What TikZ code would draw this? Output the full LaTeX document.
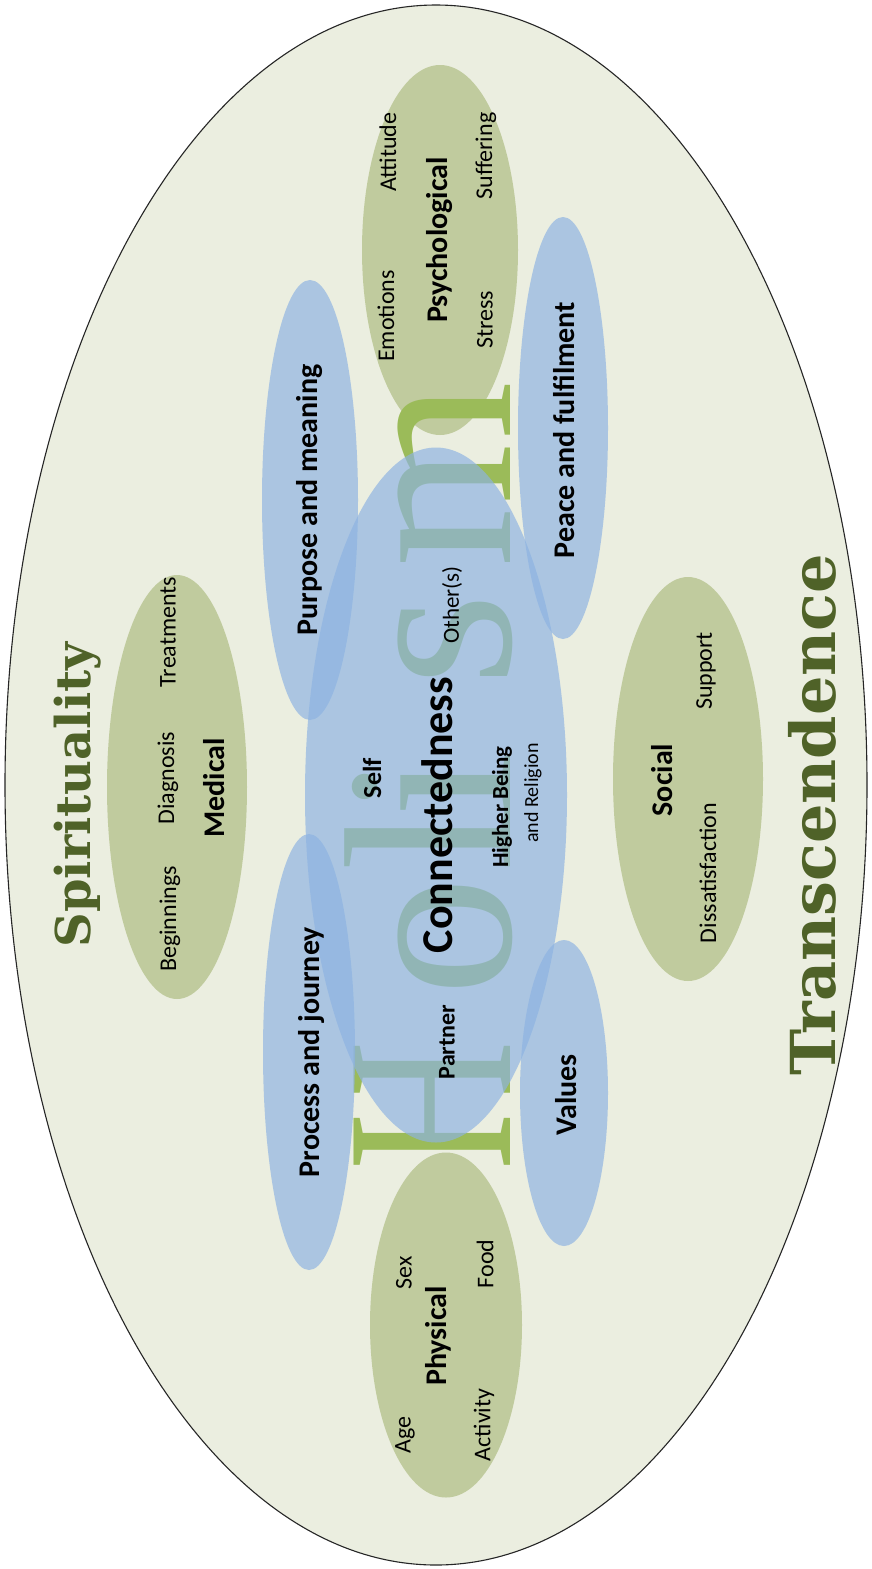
\documentclass[tikz,border=0pt]{standalone}
\usepackage{fontspec}
\setmainfont{Carlito}
\newfontfamily\slabfont{DejaVu Serif}
\newfontfamily\holfont{Liberation Serif}
\usetikzlibrary{shapes.geometric}
\definecolor{outerbg}{HTML}{EBEEE0}
\definecolor{olivefill}{HTML}{C0CB9E}
\definecolor{bluefill}{HTML}{8DB3E2}
\definecolor{holgreen}{HTML}{9BBB59}
\definecolor{titlegreen}{HTML}{4F6228}
\tikzset{
  greenell/.style={ellipse, fill=olivefill, inner sep=0pt, draw=none},
  blueell/.style={ellipse, fill=bluefill, fill opacity=0.68, inner sep=0pt, draw=none},
  lbl/.style={rotate=90, inner sep=0pt, font=\fontsize{24}{24}\selectfont},
  lblb/.style={rotate=90, inner sep=0pt, font=\bfseries\fontsize{30}{30}\selectfont},
  titletext/.style={rotate=90, inner sep=0pt, text=titlegreen},
  holletter/.style={rotate=90, inner sep=0pt, anchor=base, text=holgreen, font=\holfont\fontsize{239}{239}\selectfont},
}
\begin{document}
\begin{tikzpicture}[x=1pt,y=-1pt]
\useasboundingbox[fill=white] (0,0) rectangle (872,1569);
% outer ellipse
\node[ellipse, fill=outerbg, draw=black!85, line width=1.1pt, inner sep=0pt,
      minimum width=862pt, minimum height=1560pt] (outer) at (436,785) {};
% green ellipses
\node[greenell, minimum width=140pt, minimum height=424pt] (medical) at (177,787) {};
\node[greenell, minimum width=156pt, minimum height=370pt] (psych) at (440,250) {};
\node[greenell, minimum width=152pt, minimum height=345pt] (physical) at (446,1325) {};
\node[greenell, minimum width=150pt, minimum height=404pt] (social) at (688,779) {};
% Holism
\node[holletter] (hH) at (510,1106) {\scalebox{0.75}[1]{H}};
\node[holletter] (hO) at (510,937) {o};
\node[holletter] (hL) at (510,838) {l};
\node[holletter] (hI) at (510,785) {i};
\node[holletter] (hS) at (510,640) {s};
\node[holletter] (hM) at (510,475) {m};
% blue ellipses
\node[blueell, minimum width=96pt, minimum height=440pt] (purpose) at (310,500) {};
\node[blueell, minimum width=92pt, minimum height=436pt] (process) at (309,1052) {};
\node[blueell, minimum width=262pt, minimum height=695pt] (central) at (436,795) {};
\node[blueell, minimum width=90pt, minimum height=422pt] (peace) at (563,428) {};
\node[blueell, minimum width=88pt, minimum height=306pt] (values) at (564,1093) {};
% titles
\node[titletext, font=\slabfont\bfseries\fontsize{48}{48}\selectfont] (spirit) at (78,795) {Spirituality};
\node[titletext, font=\slabfont\bfseries\fontsize{62}{62}\selectfont] (trans) at (812,815) {Transcendence};
% medical labels
\node[lbl] (beg) at (170,919) {Beginnings};
\node[lbl] (diag) at (168,778) {Diagnosis};
\node[lbl] (treat) at (168,632) {Treatments};
\node[lblb] (medt) at (214,788) {Medical};
% psychological labels
\node[lbl] (att) at (388,152) {Attitude};
\node[lbl] (suff) at (486,156) {Suffering};
\node[lbl] (emo) at (386,316) {Emotions};
\node[lblb] (psyt) at (440,240) {Psychological};
\node[lbl] (stress) at (485,320) {Stress};
% physical labels
\node[lbl] (sex) at (404,1273) {Sex};
\node[lblb] (phyt) at (438,1336) {Physical};
\node[lbl] (food) at (485,1264) {Food};
\node[lbl] (age) at (405,1435) {Age};
\node[lbl] (act) at (484,1425) {Activity};
% social labels
\node[lblb] (soct) at (662,780) {Social};
\node[lbl] (diss) at (708,873) {Dissatisfaction};
\node[lbl] (supp) at (706,671) {Support};
% blue labels
\node[lblb] (purt) at (310,500) {Purpose and meaning};
\node[lblb] (prot) at (312,1052) {Process and journey};
\node[lblb] (peat) at (564,430) {Peace and fulfilment};
\node[lblb] (valt) at (566,1095) {Values};
% connectedness
\node[rotate=90, inner sep=0pt, font=\bfseries\fontsize{44}{44}\selectfont] (conn) at (437,815) {Connectedness};
\node[rotate=90, inner sep=0pt, font=\bfseries\fontsize{26}{26}\selectfont] (self) at (372,778) {Self};
\node[rotate=90, inner sep=0pt, font=\fontsize{23}{23}\selectfont] (others) at (452,605) {Other(s)};
\node[rotate=90, inner sep=0pt, font=\bfseries\fontsize{24}{24}\selectfont] (partner) at (447,1042) {Partner};
\node[rotate=90, inner sep=0pt, font=\bfseries\fontsize{23}{23}\selectfont] (higher) at (502,807) {Higher Being};
\node[rotate=90, inner sep=0pt, font=\fontsize{20}{20}\selectfont] (relig) at (533,793) {and Religion};
\end{tikzpicture}
\end{document}
